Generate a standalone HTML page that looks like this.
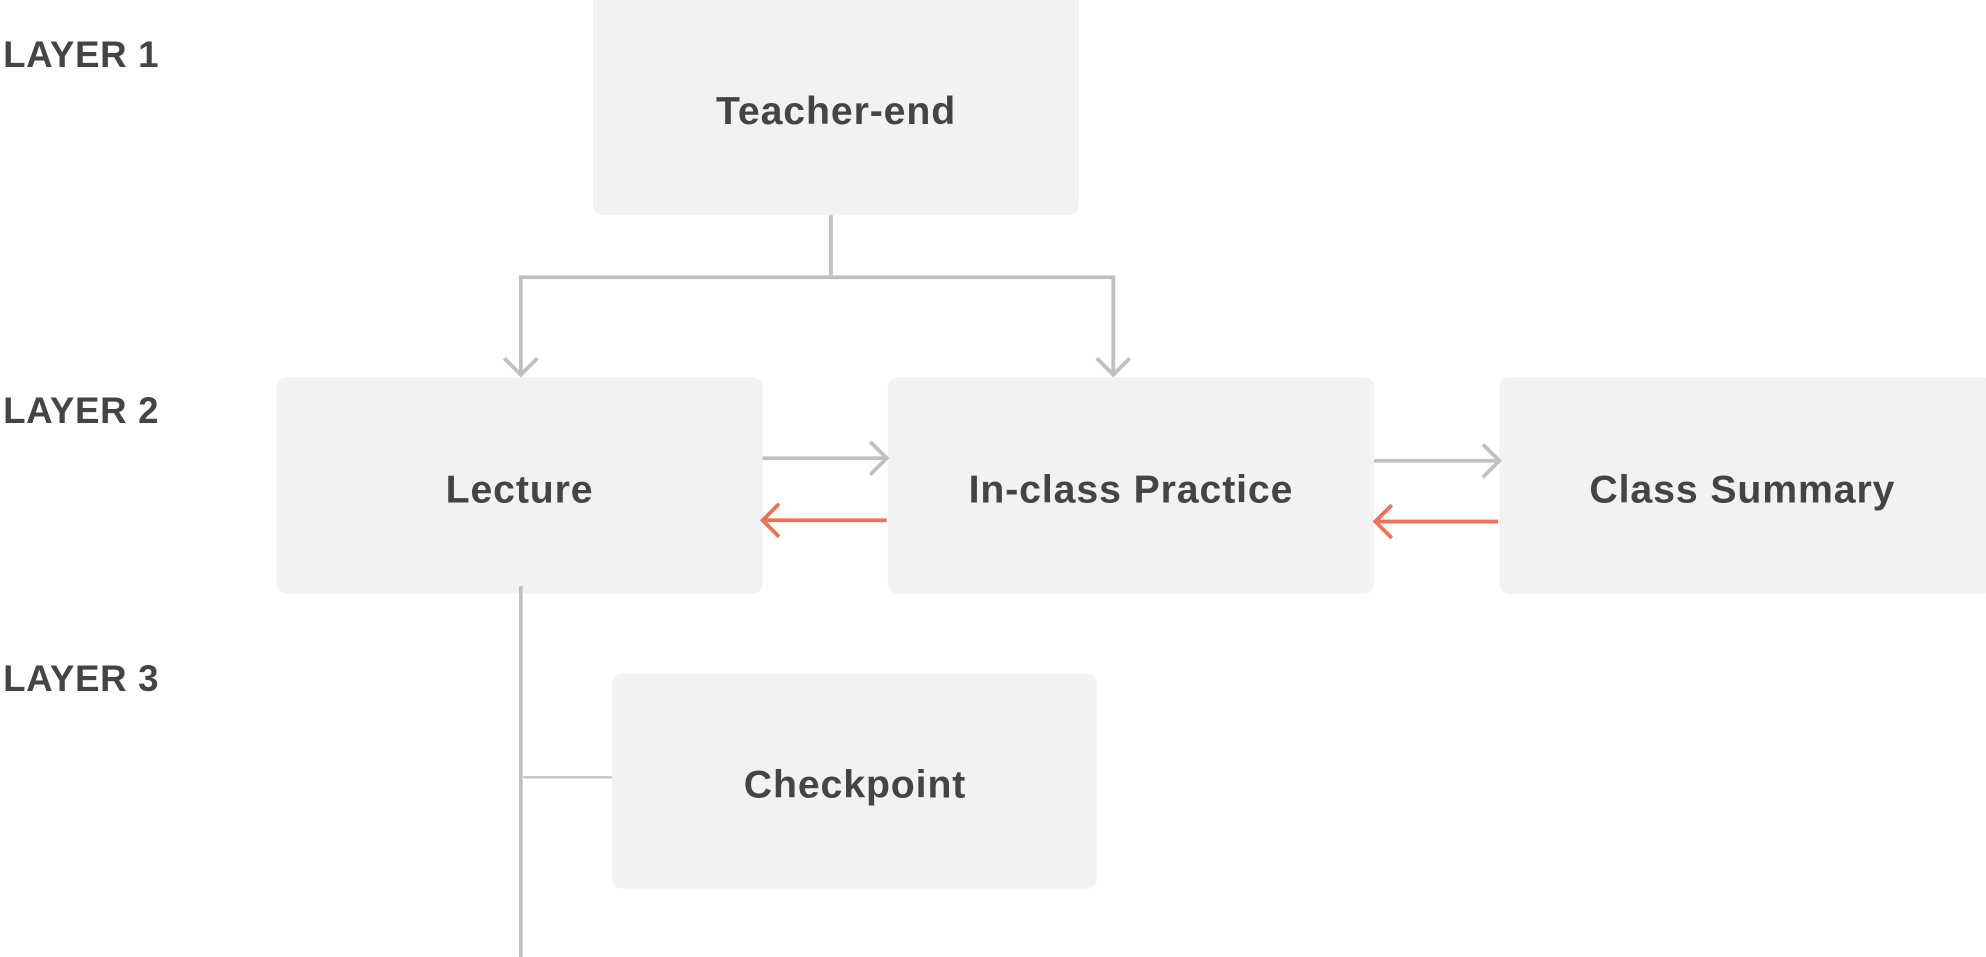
<!DOCTYPE html>
<html><head><meta charset="utf-8"><style>
html,body{margin:0;padding:0;background:#fff;width:1986px;height:957px;overflow:hidden}
svg text{font-family:"Liberation Sans",sans-serif;font-weight:bold;fill:#444}
</style></head><body>
<svg width="1986" height="957" viewBox="0 0 1568 756" xmlns="http://www.w3.org/2000/svg">
<g fill="#f2f2f2">
<rect x="468" y="-10" width="384" height="180" rx="8"/>
<rect x="218" y="298" width="384" height="171" rx="8"/>
<rect x="701" y="298" width="384" height="171" rx="8"/>
<rect x="1184" y="298" width="390" height="171" rx="8"/>
<rect x="483" y="532" width="383" height="170" rx="8"/>
</g>
<g fill="none" stroke="#c0c0c0" stroke-width="3">
<path d="M656 170 V219 M411 296 V219 H879 V296"/>
<path d="M398 283 L411 296 L424 283 M866 283 L879 296 L892 283"/>
<path d="M602 362 H700 M687 349 L700 362 L687 375"/>
<path d="M1085 364 H1184 M1171 351 L1184 364 L1171 377"/>
<path d="M411 463 V757"/>
</g>
<path d="M413 614 H483" stroke="#c8c8c8" stroke-width="2"/>
<g fill="none" stroke="#ee7155" stroke-width="3">
<path d="M700 411 H602 M615 398 L602 411 L615 424"/>
<path d="M1183 412 H1086 M1099 399 L1086 412 L1099 425"/>
</g>
<g font-size="29" letter-spacing="0.5">
<text x="2" y="53">LAYER 1</text>
<text x="2" y="334">LAYER 2</text>
<text x="2" y="546">LAYER 3</text>
</g>
<g font-size="31" text-anchor="middle" letter-spacing="0.7">
<text x="660" y="98">Teacher-end</text>
<text x="410" y="397">Lecture</text>
<text x="893" y="397">In-class Practice</text>
<text x="1376" y="397">Class Summary</text>
<text x="675" y="630">Checkpoint</text>
</g>
</svg>
</body></html>
